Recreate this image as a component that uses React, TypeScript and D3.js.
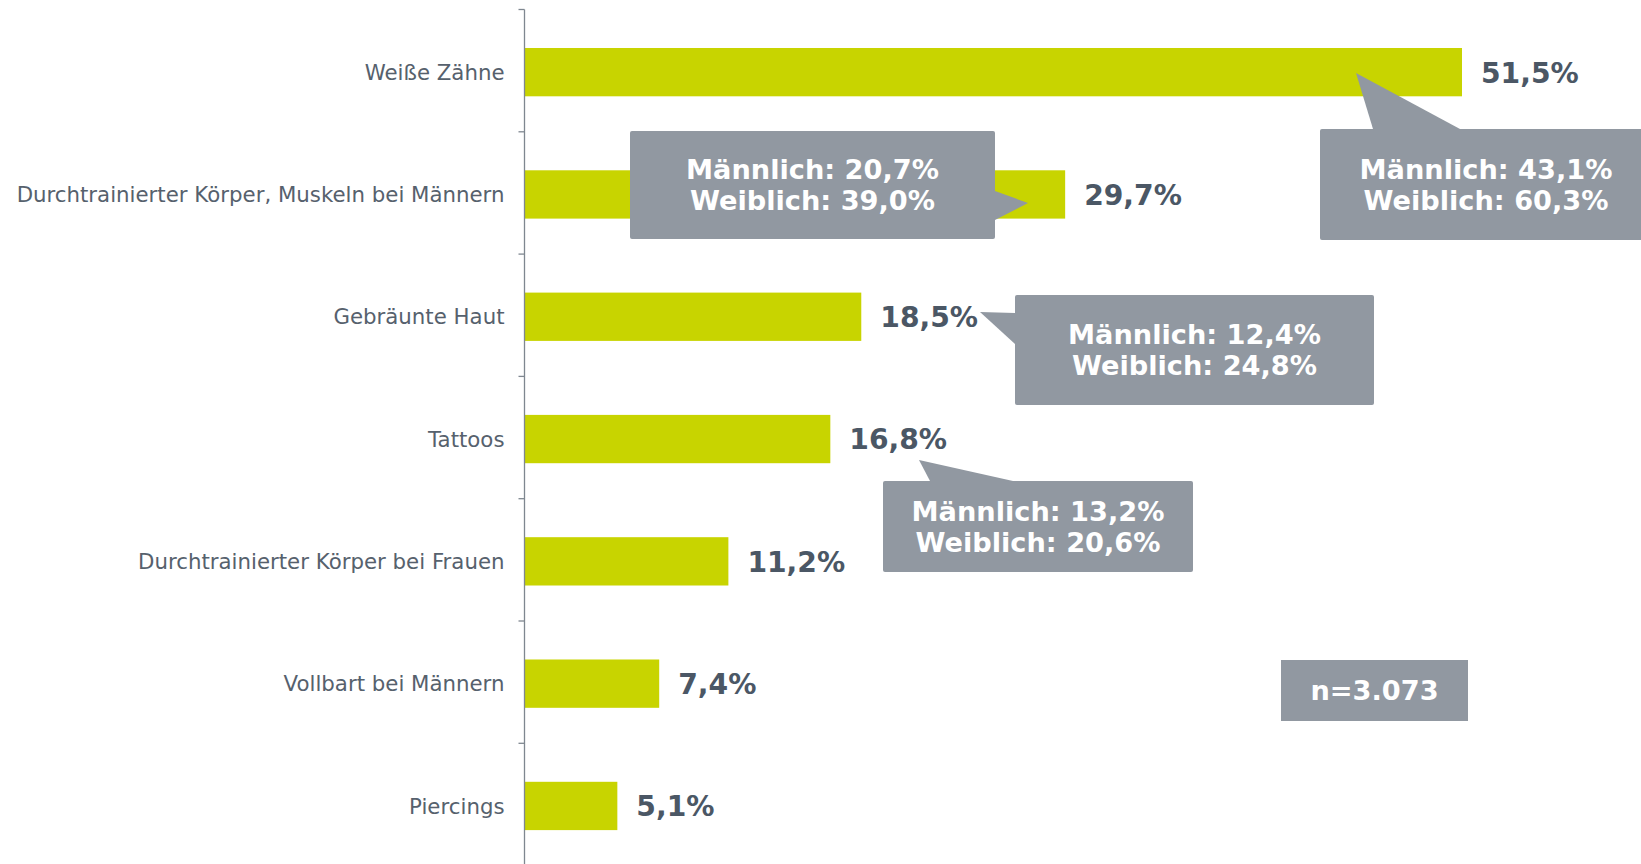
import React from "react";
import * as d3 from "d3";

const categories = [
  "Weiße Zähne",
  "Durchtrainierter Körper, Muskeln bei Männern",
  "Gebräunte Haut",
  "Tattoos",
  "Durchtrainierter Körper bei Frauen",
  "Vollbart bei Männern",
  "Piercings",
];
const values = [51.5, 29.7, 18.5, 16.8, 11.2, 7.4, 5.1];
const calloutCategories = [
  "Weiße Zähne",
  "Durchtrainierter Körper, Muskeln bei Männern",
  "Gebräunte Haut",
  "Tattoos",
];
const maleValues = [43.1, 20.7, 12.4, 13.2];
const femaleValues = [60.3, 39.0, 24.8, 20.6];
const sampleLabel = "n=3.073";

const W = 1641;
const H = 864;
const FONT = "'DejaVu Sans', Verdana, sans-serif";
const BAR = "#c8d400";
const BOX = "#9198a1";
const LABEL = "#56616d";
const VALUE = "#4b5765";

const de = d3.formatLocale({ decimal: ",", thousands: ".", grouping: [3], currency: ["", "€"] });
const pct = (v: number) => de.format(".1f")(v) + "%";

// callout geometry (box x0,y0,x1,y1 ; pointer base/tip points)
const calloutLayout = [
  { box: [1320, 129, 1652, 240], ptr: [[1373, 129], [1356, 73], [1460, 129]] },
  { box: [630, 131, 995, 239], ptr: [[995, 191], [1028, 203], [995, 220]] },
  { box: [1015, 295, 1374, 405], ptr: [[1015, 313], [980, 312], [1015, 344]] },
  { box: [883, 481, 1193, 572], ptr: [[930, 481], [919, 460], [1013, 481]] },
];

export default function App() {
  const x = d3.scaleLinear().domain([0, 51.5]).range([524.5, 1462]);
  const y0 = 9.5;
  const step = 122.3;
  const y = d3
    .scaleBand<string>()
    .domain(categories)
    .range([y0, y0 + step * categories.length])
    .paddingInner(0.605)
    .paddingOuter(0.3025);
  const ticks = d3.range(categories.length + 1).map((i) => y0 + i * step);
  const shift = 1.5;

  return (
    <svg
      width={W}
      height={H}
      style={{ position: "absolute", left: 0, top: 0, background: "#fff" }}
      fontFamily={FONT}
    >
      {/* bars */}
      {categories.map((c, i) => (
        <rect
          key={c}
          x={x(0)}
          y={y(c)! + shift}
          width={x(values[i]) - x(0)}
          height={y.bandwidth()}
          fill={BAR}
        />
      ))}
      {/* axis */}
      <line x1={x(0)} x2={x(0)} y1={y0} y2={H} stroke="#7f8790" strokeWidth={1.3} />
      {ticks.map((t, i) => (
        <line key={i} x1={x(0) - 6} x2={x(0)} y1={t} y2={t} stroke="#7f8790" strokeWidth={1.3} />
      ))}
      {/* category labels */}
      {categories.map((c) => (
        <text
          key={c}
          x={x(0) - 20}
          y={y(c)! + shift + y.bandwidth() / 2}
          dy="0.36em"
          textAnchor="end"
          fontSize={21.3}
          fill={LABEL}
        >
          {c}
        </text>
      ))}
      {/* value labels */}
      {categories.map((c, i) => (
        <text
          key={c}
          x={x(values[i]) + 19}
          y={y(c)! + shift + y.bandwidth() / 2}
          dy="0.37em"
          fontSize={28.2}
          fontWeight="bold"
          fill={VALUE}
        >
          {pct(values[i])}
        </text>
      ))}
      {/* callouts */}
      {calloutCategories.map((c, i) => {
        const L = calloutLayout[i];
        const [bx0, by0, bx1, by1] = L.box;
        const cx = (bx0 + bx1) / 2;
        const cy = (by0 + by1) / 2;
        return (
          <g key={c}>
            <rect x={bx0} y={by0} width={bx1 - bx0} height={by1 - by0} rx={2} fill={BOX} />
            <path d={d3.line()(L.ptr as [number, number][])! + "Z"} fill={BOX} />
            <text x={cx} y={cy - 15.5} dy="0.36em" textAnchor="middle" fontSize={27.2} fontWeight="bold" fill="#fff">
              {"Männlich: " + pct(maleValues[i])}
            </text>
            <text x={cx} y={cy + 15.5} dy="0.36em" textAnchor="middle" fontSize={27.2} fontWeight="bold" fill="#fff">
              {"Weiblich: " + pct(femaleValues[i])}
            </text>
          </g>
        );
      })}
      {/* sample size */}
      <rect x={1281} y={660} width={187} height={61} fill={BOX} />
      <text x={1281 + 187 / 2} y={690.5} dy="0.36em" textAnchor="middle" fontSize={27.2} fontWeight="bold" fill="#fff">
        {sampleLabel}
      </text>
    </svg>
  );
}
